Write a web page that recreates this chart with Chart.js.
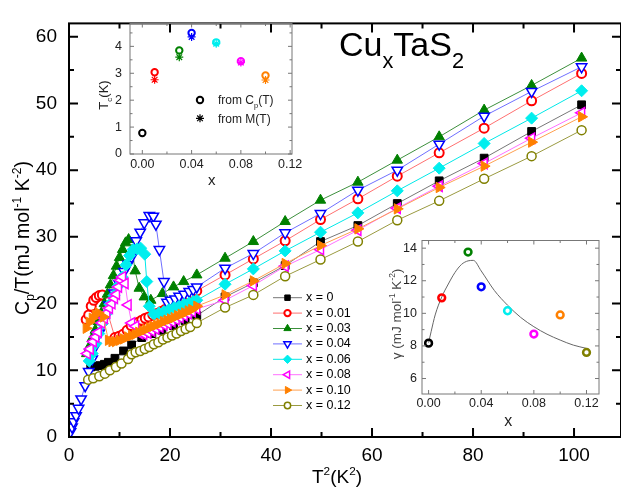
<!DOCTYPE html>
<html>
<head>
<meta charset="utf-8">
<script src="https://cdn.jsdelivr.net/npm/chart.js@4.4.1/dist/chart.umd.min.js"></script>
<style>
  html, body { margin: 0; padding: 0; background: #fff; }
  #wrap { position: relative; width: 621px; height: 497px; overflow: hidden; }
  canvas { position: absolute; }
  #main { left: 0; top: 0; }
  #tc { left: 90px; top: 8px; }
  #gam { left: 370px; top: 228px; }
</style>
</head>
<body>
<div id="wrap">
  <canvas id="main" width="621" height="497"></canvas>
  <canvas id="tc" width="220" height="186"></canvas>
  <canvas id="gam" width="245" height="209"></canvas>
</div>
<script>
const FONT = '"Liberation Sans", Arial, sans-serif';
Chart.defaults.font.family = FONT;
Chart.defaults.color = '#000';

// ---- main plot: Cp/T vs T^2 ----
const seriesLabels = ["x = 0", "x = 0.01", "x = 0.03", "x = 0.04", "x = 0.06", "x = 0.08", "x = 0.10", "x = 0.12"];
const xTicksMain = [0, 20, 40, 60, 80, 100];
const yTicksMain = [0, 10, 20, 30, 40, 50, 60];

// T^2 of the common high temperature points
const hiT2 = [25.3, 30.9, 36.5, 42.8, 49.8, 57.2, 65.0, 73.3, 82.2, 91.6, 101.5];

const t2_0 = [4.3, 5.2, 6.1, 7.0, 7.8, 9.1, 10.8, 12.4, 14.4, 16.4, 18.4, 20.7, 23.0];
const cp_0 = [10.5, 10.6, 10.7, 10.9, 11.2, 11.8, 12.9, 13.8, 14.9, 15.5, 16.0, 16.7, 17.4];
const hi_0 = [18.2, 21.0, 23.1, 25.7, 29.3, 31.7, 35.0, 38.4, 41.8, 45.8, 49.8];

const t2_1 = [3.4, 3.9, 4.4, 4.9, 5.4, 6.0, 6.6, 9.1, 9.9, 10.7, 11.5, 12.3, 13.0, 13.7, 14.4, 15.1, 15.8, 16.6, 17.4, 18.2, 19.0, 19.8, 20.6, 21.4, 22.2, 23.0, 23.8, 24.6];
const cp_1 = [17.6, 18.3, 19.6, 20.5, 20.9, 21.2, 21.3, 14.9, 15.1, 15.4, 16.0, 16.7, 17.0, 17.2, 17.5, 17.8, 18.0, 18.3, 18.5, 18.8, 19.1, 19.5, 19.8, 20.2, 20.5, 20.8, 21.2, 21.5];
const hi_1 = [21.9, 24.3, 26.7, 29.4, 32.6, 35.7, 39.1, 42.6, 46.3, 50.4, 54.5];

const t2_2 = [3.5, 4.0, 4.6, 5.2, 5.8, 6.4, 7.0, 7.6, 8.2, 8.8, 9.4, 10.0, 10.6, 11.2, 11.8, 12.5, 13.1, 13.9, 14.9, 16.2, 18.5, 20.7, 22.7];
const cp_2 = [12.5, 13.5, 14.8, 16.0, 17.3, 18.6, 20.0, 21.4, 22.8, 24.2, 25.6, 26.9, 28.1, 29.1, 29.6, 28.0, 24.9, 22.3, 21.0, 20.5, 21.5, 22.5, 23.3];
const hi_2 = [24.3, 26.8, 29.3, 32.3, 35.5, 38.2, 41.5, 45.0, 49.0, 52.7, 56.8];

const t2_3 = [0.3, 0.6, 0.9, 1.4, 1.9, 2.4, 3.2, 3.9, 4.6, 5.2, 6.0, 6.9, 7.9, 8.9, 9.9, 10.9, 11.7, 12.4, 13.3, 14.1, 14.9, 15.9, 16.7, 17.2, 17.9, 18.8, 19.4, 20.1, 21.0, 21.8, 22.8, 23.8, 24.6];
const cp_3 = [0.8, 1.5, 2.3, 3.2, 4.3, 5.7, 7.7, 9.8, 11.7, 13.6, 15.6, 17.6, 19.8, 21.6, 23.0, 24.8, 25.9, 27.0, 29.4, 30.7, 32.1, 33.2, 33.1, 31.9, 28.1, 23.3, 20.2, 20.5, 20.7, 21.1, 21.4, 21.8, 22.1];
const hi_3 = [22.5, 25.3, 27.5, 30.6, 33.5, 37.0, 40.0, 43.9, 48.1, 51.8, 55.5];

const t2_4 = [4.0, 4.6, 5.3, 5.9, 6.6, 7.3, 8.1, 8.9, 9.7, 10.5, 11.3, 12.0, 12.7, 13.5, 14.2, 15.0, 15.4, 15.9, 16.8, 17.8, 18.8, 19.8, 20.8, 21.8, 22.8, 23.8, 24.6];
const cp_4 = [11.4, 12.5, 14.0, 15.5, 17.0, 18.4, 19.9, 21.2, 22.6, 24.0, 25.8, 27.2, 28.1, 28.2, 28.3, 27.4, 23.3, 19.6, 18.4, 18.6, 18.8, 19.1, 19.4, 19.6, 19.9, 20.1, 20.3];
const hi_4 = [20.5, 22.9, 25.2, 27.9, 30.7, 33.6, 36.9, 40.3, 44.0, 47.8, 51.9];

const t2_5 = [3.6, 4.2, 4.8, 5.3, 5.8, 6.5, 7.0, 7.5, 8.0, 8.5, 9.0, 9.4, 9.8, 10.2, 10.6, 11.1, 11.7, 12.4, 13.2, 14.0, 14.8, 15.6, 16.4, 17.2, 18.0, 18.8, 19.6, 20.4, 21.2, 22.0, 22.8, 23.6, 24.4];
const cp_5 = [12.5, 13.2, 14.3, 15.0, 15.7, 17.1, 17.8, 18.6, 19.3, 20.0, 20.8, 21.4, 22.5, 23.5, 24.0, 23.0, 19.8, 17.1, 16.6, 15.5, 15.4, 15.6, 15.9, 16.2, 16.5, 16.8, 17.0, 17.3, 17.6, 17.9, 18.2, 18.5, 18.8];
const hi_5 = [19.2, 20.5, 22.7, 25.6, 28.1, 31.0, 34.3, 37.6, 41.0, 44.8, 48.6];

const t2_6 = [3.4, 4.0, 4.6, 5.2, 5.8, 6.8, 7.8, 8.5, 9.2, 10.0, 10.8, 11.6, 12.4, 13.1, 13.8, 14.5, 15.2, 15.9, 16.6, 17.3, 18.0, 18.7, 19.4, 20.1, 20.8, 21.5, 22.2, 22.9, 23.6, 24.3];
const cp_6 = [16.3, 17.2, 17.8, 18.3, 18.6, 18.0, 14.5, 14.3, 14.3, 14.5, 14.7, 15.0, 15.2, 15.4, 15.7, 15.9, 16.1, 16.4, 16.6, 16.8, 17.0, 17.3, 17.5, 17.7, 17.9, 18.2, 18.4, 18.6, 18.9, 19.1];
const hi_6 = [19.6, 21.3, 23.4, 26.0, 28.7, 31.2, 34.2, 37.4, 40.6, 44.2, 48.0];

const t2_7 = [3.8, 4.8, 6.0, 7.1, 8.1, 9.3, 10.4, 11.7, 12.4, 13.2, 14.1, 15.0, 15.9, 16.8, 17.7, 18.6, 19.5, 20.4, 21.3, 22.2, 23.1, 24.0];
const cp_7 = [8.6, 8.8, 9.1, 9.5, 10.0, 10.5, 11.0, 11.7, 12.4, 12.7, 12.9, 13.2, 13.5, 13.9, 14.2, 14.6, 14.9, 15.2, 15.5, 15.9, 16.2, 16.5];
const hi_7 = [17.1, 19.4, 21.3, 24.1, 26.6, 29.3, 32.5, 35.4, 38.7, 42.1, 46.0];

// ---- inset 1: Tc vs x ----
const tcX = [0, 0.01, 0.03, 0.04, 0.06, 0.08, 0.10];
const tcFromCp = [0.78, 3.04, 3.85, 4.5, 4.15, 3.45, 2.92];
const tcMX = [0.01, 0.03, 0.04, 0.06, 0.08, 0.10];
const tcFromM = [2.76, 3.6, 4.35, 4.1, 3.4, 2.75];
const tcXTicks = [0, 0.04, 0.08, 0.12];
const tcYTicks = [0, 1, 2, 3, 4];

// ---- inset 2: gamma vs x ----
const gamX = [0, 0.01, 0.03, 0.04, 0.06, 0.08, 0.10, 0.12];
const gamY = [8.17, 10.95, 13.76, 11.63, 10.16, 8.73, 9.9, 7.6];
const fitX = [0, 0.002, 0.005, 0.01, 0.015, 0.02, 0.025, 0.03, 0.034, 0.04, 0.05, 0.06, 0.07, 0.08, 0.09, 0.10, 0.11, 0.12];
const fitY = [8.2, 8.9, 9.9, 11.0, 11.8, 12.5, 13.0, 13.22, 13.25, 12.6, 11.4, 10.5, 9.75, 9.18, 8.72, 8.36, 8.05, 7.85];
const gamXTicks = [0, 0.04, 0.08, 0.12];
const gamYTicks = [6, 8, 10, 12, 14];

// styles
const markColors = ['#000000', '#ff0000', '#008000', '#0000ff', '#00eeee', '#ff00ff', '#ff8000', '#808000'];
const lineColors = ['#777777', '#ff7070', '#3c8f3c', '#6f6fff', '#00e8e8', '#ff70ff', '#ffa050', '#9a9a40'];
const pStyles = ['rect', 'circle', 'triangle', 'triangle', 'rectRot', 'triangle', 'triangle', 'circle'];
const pRot = [0, 0, 0, 180, 0, 270, 90, 0];
const pFilled = [true, false, true, false, true, false, true, false];
const pRadius = [5.5, 4.5, 6, 6, 6, 6, 6, 4.5];

const lowT2 = [t2_0, t2_1, t2_2, t2_3, t2_4, t2_5, t2_6, t2_7];
const lowCp = [cp_0, cp_1, cp_2, cp_3, cp_4, cp_5, cp_6, cp_7];
const hiCp = [hi_0, hi_1, hi_2, hi_3, hi_4, hi_5, hi_6, hi_7];

function pts(xs, ys) { return xs.map((v, i) => ({ x: v, y: ys[i] })); }

function drawRich(ctx, it) {
  const size = it.size, small = size * (it.ratio || 0.62);
  const subD = size * (it.sub || 0.28), supD = size * (it.sup || 0.42);
  ctx.save();
  ctx.translate(it.x, it.y);
  if (it.rotate) ctx.rotate(it.rotate);
  ctx.fillStyle = it.color || '#000';
  ctx.textBaseline = 'alphabetic';
  ctx.textAlign = 'left';
  const widths = it.parts.map(([t, k]) => {
    ctx.font = (k === 'n' ? size : small) + 'px ' + FONT;
    return ctx.measureText(t).width;
  });
  const total = widths.reduce((a, b) => a + b, 0);
  let cx = it.align === 'center' ? -total / 2 : 0;
  it.parts.forEach(([t, k], i) => {
    ctx.font = (k === 'n' ? size : small) + 'px ' + FONT;
    const dy = k === 'sub' ? subD : (k === 'sup' ? -supD : 0);
    ctx.fillText(t, cx, dy);
    cx += widths[i];
  });
  ctx.restore();
}

function minorVals(s, step) {
  const out = [];
  for (let k = Math.ceil(s.min / step - 1e-9); k * step <= s.max + 1e-9; k++) {
    const v = k * step;
    if (!s.ticks.some(t => Math.abs(t.value - v) < step * 1e-3)) out.push(v);
  }
  return out;
}

// box around the plot with inward ticks on all four sides
const framePlugin = {
  id: 'frame',
  afterDraw(chart, args, o) {
    const { ctx, chartArea: a, scales: { x, y } } = chart;
    ctx.save();
    ctx.strokeStyle = o.color;
    ctx.lineWidth = o.width;
    ctx.strokeRect(a.left, a.top, a.right - a.left, a.bottom - a.top);
    ctx.beginPath();
    const xm = (vals, len) => vals.forEach(v => {
      const p = x.getPixelForValue(v);
      ctx.moveTo(p, a.bottom); ctx.lineTo(p, a.bottom - len);
      ctx.moveTo(p, a.top); ctx.lineTo(p, a.top + len);
    });
    const ym = (vals, len) => vals.forEach(v => {
      const p = y.getPixelForValue(v);
      ctx.moveTo(a.left, p); ctx.lineTo(a.left + len, p);
      ctx.moveTo(a.right, p); ctx.lineTo(a.right - len, p);
    });
    xm(x.ticks.map(t => t.value), o.major);
    xm(minorVals(x, o.xMinor), o.minor);
    ym(y.ticks.map(t => t.value), o.major);
    ym(minorVals(y, o.yMinor), o.minor);
    ctx.stroke();
    ctx.restore();
  }
};

const textPlugin = {
  id: 'texts',
  afterDraw(chart, args, o) {
    (o.items || []).forEach(it => drawRich(chart.ctx, it));
  }
};

// legend for the main plot
const seriesLegend = {
  id: 'seriesLegend',
  afterDraw(chart, args, o) {
    if (!o.show) return;
    const ctx = chart.ctx;
    ctx.save();
    chart.data.datasets.forEach((ds, i) => {
      const yy = o.y + i * o.dy;
      ctx.strokeStyle = ds.borderColor;
      ctx.lineWidth = 1;
      ctx.beginPath();
      ctx.moveTo(o.x, yy); ctx.lineTo(o.x + 29, yy);
      ctx.stroke();
      ctx.fillStyle = ds.pointBackgroundColor;
      ctx.strokeStyle = ds.pointBorderColor;
      ctx.lineWidth = ds.pointBorderWidth;
      Chart.helpers.drawPoint(ctx, { pointStyle: ds.pointStyle, rotation: ds.pointRotation, radius: ds.pointRadius * 0.7, borderWidth: ds.pointBorderWidth }, o.x + 14.5, yy);
      ctx.fillStyle = '#000';
      ctx.font = o.size + 'px ' + FONT;
      ctx.textBaseline = 'middle';
      ctx.fillText(ds.label, o.x + 33, yy);
    });
    ctx.restore();
  }
};

// small legend in the Tc inset
const tcLegend = {
  id: 'tcLegend',
  afterDraw(chart, args, o) {
    if (!o.show) return;
    const ctx = chart.ctx;
    ctx.save();
    ctx.strokeStyle = '#000';
    ctx.fillStyle = 'rgba(0,0,0,0)';
    ctx.lineWidth = 2;
    Chart.helpers.drawPoint(ctx, { pointStyle: 'circle', radius: 3.2, borderWidth: 2 }, o.x, o.y1);
    ctx.lineWidth = 1.2;
    Chart.helpers.drawPoint(ctx, { pointStyle: 'star', radius: 4, borderWidth: 1.2 }, o.x, o.y2);
    ctx.restore();
  }
};

Chart.register(framePlugin, textPlugin, seriesLegend, tcLegend);

const n = seriesLabels.length;
const mainSets = seriesLabels.map((lab, i) => ({
  label: lab,
  data: pts(lowT2[i], lowCp[i]).concat(pts(hiT2, hiCp[i])),
  showLine: true,
  borderColor: lineColors[i],
  borderWidth: 1,
  pointStyle: pStyles[i],
  pointRotation: pRot[i],
  pointRadius: pRadius[i],
  pointBorderColor: markColors[i],
  pointBackgroundColor: pFilled[i] ? markColors[i] : '#ffffff',
  pointBorderWidth: pFilled[i] ? 1 : (i === 1 ? 2 : 1.5),
  order: n - i
}));

new Chart(document.getElementById('main'), {
  type: 'scatter',
  data: { datasets: mainSets },
  options: {
    responsive: false,
    animation: false,
    layout: { padding: { top: 3, right: 0, left: 0, bottom: 0 }, autoPadding: false },
    plugins: {
      legend: { display: false },
      tooltip: { enabled: false },
      frame: { color: '#000', width: 2, major: 9, minor: 5, xMinor: 10, yMinor: 5 },
      seriesLegend: { show: true, x: 273, y: 297.7, dy: 15.4, size: 12.5 },
      texts: {
        items: [
          { parts: [['Cu', 'n'], ['x', 'sub'], ['TaS', 'n'], ['2', 'sub']], x: 339, y: 56, size: 34, sub: 0.34, ratio: 0.64 },
          { parts: [['T', 'n'], ['2', 'sup'], ['(K', 'n'], ['2', 'sup'], [')', 'n']], x: 337, y: 483, size: 19, align: 'center' },
          { parts: [['C', 'n'], ['p', 'sub'], ['/T(mJ mol', 'n'], ['-1', 'sup'], [' K', 'n'], ['-2', 'sup'], [')', 'n']], x: 29, y: 238, size: 19.5, align: 'center', rotate: -Math.PI / 2 }
        ]
      }
    },
    scales: {
      x: {
        type: 'linear', min: 0, max: 109.3,
        afterBuildTicks: s => { s.ticks = xTicksMain.map(v => ({ value: v })); },
        afterFit: s => { s.height = 60; },
        grid: { display: false, drawTicks: false },
        border: { display: false },
        ticks: { font: { size: 19 }, color: '#000', padding: 7, maxRotation: 0 }
      },
      y: {
        type: 'linear', min: 0, max: 62,
        afterBuildTicks: s => { s.ticks = yTicksMain.map(v => ({ value: v })); },
        afterFit: s => { s.width = 69; },
        grid: { display: false, drawTicks: false },
        border: { display: false },
        ticks: { font: { size: 19 }, color: '#000', padding: 12 }
      }
    }
  }
});

// inset 1
new Chart(document.getElementById('tc'), {
  type: 'scatter',
  data: {
    datasets: [
      {
        data: pts(tcX, tcFromCp),
        pointStyle: 'circle', pointRadius: 3.2, pointBorderWidth: 2,
        pointBorderColor: markColors.slice(0, 7), pointBackgroundColor: 'rgba(0,0,0,0)',
        order: 1
      },
      {
        data: pts(tcMX, tcFromM),
        pointStyle: 'star', pointRadius: 4, pointBorderWidth: 1.2,
        pointBorderColor: markColors.slice(1, 7), pointBackgroundColor: 'rgba(0,0,0,0)',
        order: 2
      }
    ]
  },
  options: {
    responsive: false,
    animation: false,
    layout: { padding: { top: 12, right: 18, left: 0, bottom: 0 }, autoPadding: false },
    plugins: {
      legend: { display: false },
      tooltip: { enabled: false },
      frame: { color: '#777', width: 1, major: 4, minor: 2.5, xMinor: 0.02, yMinor: 0.5 },
      tcLegend: { show: true, x: 110, y1: 92, y2: 110.3 },
      texts: {
        items: [
          { parts: [['T', 'n'], ['c', 'sub'], ['(K)', 'n']], x: 18, y: 87, size: 13, align: 'center', rotate: -Math.PI / 2, color: '#222' },
          { parts: [['x', 'n']], x: 121.7, y: 177, size: 15, align: 'center', color: '#222' },
          { parts: [['from C', 'n'], ['p', 'sub'], ['(T)', 'n']], x: 128, y: 96.3, size: 12, color: '#222' },
          { parts: [['from M(T)', 'n']], x: 128, y: 115.3, size: 12, color: '#222' }
        ]
      }
    },
    scales: {
      x: {
        type: 'linear', min: -0.01, max: 0.1215,
        afterBuildTicks: s => { s.ticks = tcXTicks.map(v => ({ value: v })); },
        afterFit: s => { s.height = 40; },
        grid: { display: false, drawTicks: false },
        border: { display: false },
        ticks: { font: { size: 12.5 }, color: '#222', padding: 3, maxRotation: 0, callback: v => v.toFixed(2) }
      },
      y: {
        type: 'linear', min: 0, max: 4.85,
        afterBuildTicks: s => { s.ticks = tcYTicks.map(v => ({ value: v })); },
        afterFit: s => { s.width = 40; },
        grid: { display: false, drawTicks: false },
        border: { display: false },
        ticks: { font: { size: 12.5 }, color: '#222', padding: 8 }
      }
    }
  }
});

// inset 2
new Chart(document.getElementById('gam'), {
  type: 'scatter',
  data: {
    datasets: [
      {
        data: pts(gamX, gamY),
        pointStyle: 'circle', pointRadius: 3.4, pointBorderWidth: 2.5,
        pointBorderColor: markColors, pointBackgroundColor: 'rgba(0,0,0,0)',
        order: 1
      },
      {
        data: pts(fitX, fitY),
        showLine: true, pointRadius: 0, borderColor: '#666', borderWidth: 1,
        cubicInterpolationMode: 'monotone',
        order: 2
      }
    ]
  },
  options: {
    responsive: false,
    animation: false,
    layout: { padding: { top: 12, right: 16, left: 0, bottom: 0 }, autoPadding: false },
    plugins: {
      legend: { display: false },
      tooltip: { enabled: false },
      frame: { color: '#777', width: 1, major: 4, minor: 2.5, xMinor: 0.02, yMinor: 1 },
      texts: {
        items: [
          { parts: [['\u03b3 (mJ mol', 'n'], ['-1', 'sup'], [' K', 'n'], ['-2', 'sup'], [')', 'n']], x: 31, y: 86, size: 13.5, align: 'center', rotate: -Math.PI / 2, color: '#444' },
          { parts: [['x', 'n']], x: 138.3, y: 198, size: 16, align: 'center', color: '#222' }
        ]
      }
    },
    scales: {
      x: {
        type: 'linear', min: -0.005, max: 0.1295,
        afterBuildTicks: s => { s.ticks = gamXTicks.map(v => ({ value: v })); },
        afterFit: s => { s.height = 43; },
        grid: { display: false, drawTicks: false },
        border: { display: false },
        ticks: { font: { size: 12.5 }, color: '#222', padding: 2, maxRotation: 0, callback: v => v.toFixed(2) }
      },
      y: {
        type: 'linear', min: 5.05, max: 14.47,
        afterBuildTicks: s => { s.ticks = gamYTicks.map(v => ({ value: v })); },
        afterFit: s => { s.width = 52; },
        grid: { display: false, drawTicks: false },
        border: { display: false },
        ticks: { font: { size: 12.5 }, color: '#222', padding: 5 }
      }
    }
  }
});
</script>
</body>
</html>
